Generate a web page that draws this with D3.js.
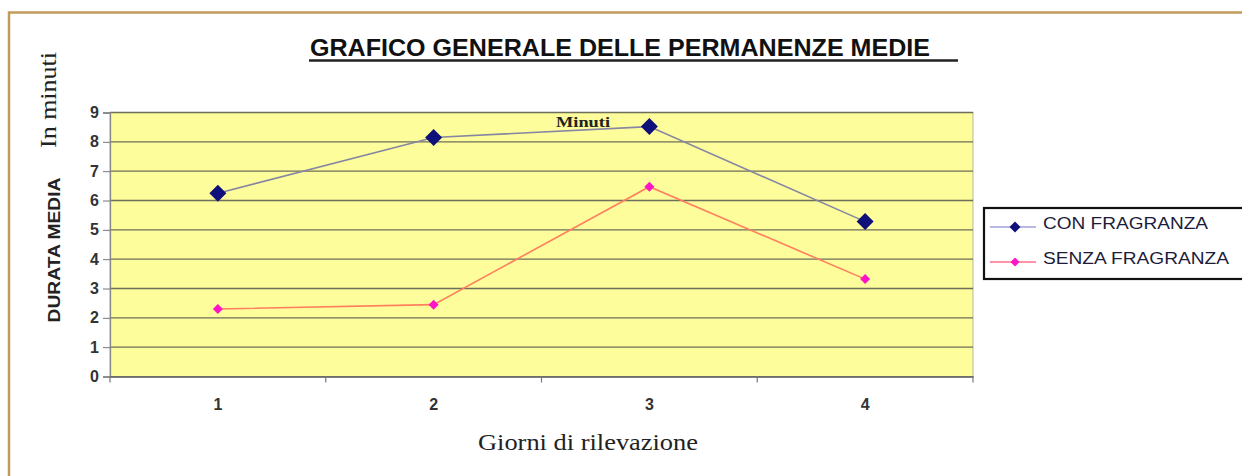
<!DOCTYPE html>
<html>
<head>
<meta charset="utf-8">
<script src="https://cdn.jsdelivr.net/npm/d3@7"></script>
<style>
  body { margin: 0; background: #fff; }
  svg { display: block; }
</style>
</head>
<body>
<svg width="1242" height="476"></svg>
<script>
// dati
const giorni = ["1", "2", "3", "4"];
const conFragranza = [6.25, 8.15, 8.52, 5.28];
const senzaFragranza = [2.3, 2.45, 6.47, 3.32];
const yTicks = [0, 1, 2, 3, 4, 5, 6, 7, 8, 9];
const serieNomi = ["CON FRAGRANZA", "SENZA FRAGRANZA"];

const svg = d3.select("svg");
const plot = { left: 110, right: 973, top: 112.5, bottom: 376.5 };

// cornice esterna
svg.append("path")
  .attr("d", "M9,476 V12.5 H1242")
  .attr("fill", "none")
  .attr("stroke", "#c49a5c")
  .attr("stroke-width", 2.5);

const x = d3.scaleBand().domain(giorni).range([plot.left, plot.right]);
const y = d3.scaleLinear().domain([0, 9]).range([plot.bottom, plot.top]);

// sfondo area del grafico
svg.append("rect")
  .attr("x", plot.left).attr("y", plot.top)
  .attr("width", plot.right - plot.left).attr("height", plot.bottom - plot.top)
  .attr("fill", "#fdfd9b")
  .attr("stroke", "#b8b8a0").attr("stroke-width", 1);

// griglia
svg.append("g")
  .selectAll("line")
  .data(yTicks.slice(1))
  .join("line")
  .attr("x1", plot.left).attr("x2", plot.right)
  .attr("y1", d => y(d)).attr("y2", d => y(d))
  .attr("stroke", "#6e6e5c").attr("stroke-width", 1.4);

// asse y
const yAxis = svg.append("g")
  .attr("transform", `translate(${plot.left},0)`)
  .call(d3.axisLeft(y).tickValues(yTicks).tickSize(7).tickPadding(4));
yAxis.select(".domain").attr("stroke", "#888").attr("stroke-width", 1.3);
yAxis.selectAll(".tick line").attr("stroke", "#777");
yAxis.selectAll("text")
  .attr("font-family", "Liberation Sans, Arial, sans-serif")
  .attr("font-weight", "bold").attr("font-size", 16).attr("fill", "#333");

// asse x
const xAxis = svg.append("g")
  .attr("transform", `translate(0,${plot.bottom})`)
  .call(d3.axisBottom(x).tickSize(0).tickPadding(22));
xAxis.select(".domain").attr("stroke", "#555").attr("stroke-width", 1.6);
xAxis.selectAll("text")
  .attr("font-family", "Liberation Sans, Arial, sans-serif")
  .attr("font-weight", "bold").attr("font-size", 16).attr("fill", "#333");
// tacche tra le categorie
svg.append("g")
  .selectAll("line")
  .data(giorni.concat(["end"]))
  .join("line")
  .attr("x1", (d, i) => i < giorni.length ? x(d) : plot.right)
  .attr("x2", (d, i) => i < giorni.length ? x(d) : plot.right)
  .attr("y1", plot.bottom).attr("y2", plot.bottom + 6)
  .attr("stroke", "#777").attr("stroke-width", 1.2);

const cx = d => x(d) + x.bandwidth() / 2;

// linee
const serie = [
  { nome: serieNomi[0], valori: conFragranza, linea: "#8686a4", marker: "#10107a", r: 8.5 },
  { nome: serieNomi[1], valori: senzaFragranza, linea: "#ff7f5e", marker: "#ff14c8", r: 5 }
];

const line = d3.line().x((v, i) => cx(giorni[i])).y(v => y(v));
const diamond = r => `M0,${-r} L${r},0 L0,${r} L${-r},0 Z`;

serie.forEach(s => {
  svg.append("path")
    .attr("d", line(s.valori))
    .attr("fill", "none")
    .attr("stroke", s.linea).attr("stroke-width", 1.6);
  svg.append("g")
    .selectAll("path")
    .data(s.valori)
    .join("path")
    .attr("transform", (v, i) => `translate(${cx(giorni[i])},${y(v)})`)
    .attr("d", diamond(s.r))
    .attr("fill", s.marker);
});

// etichetta dentro il grafico
svg.append("text")
  .attr("x", 583).attr("y", 127)
  .attr("text-anchor", "middle")
  .attr("font-family", "Liberation Serif, Times New Roman, serif")
  .attr("font-size", 15).attr("font-weight", "bold").attr("fill", "#222")
  .attr("textLength", 54).attr("lengthAdjust", "spacingAndGlyphs")
  .text("Minuti");

// titolo
svg.append("text")
  .attr("x", 310).attr("y", 56)
  .attr("font-family", "Liberation Sans Narrow, Liberation Sans, Arial, sans-serif")
  .attr("font-weight", "bold").attr("font-size", 23).attr("fill", "#111")
  .attr("textLength", 620).attr("lengthAdjust", "spacingAndGlyphs")
  .text("GRAFICO GENERALE DELLE PERMANENZE MEDIE");
svg.append("line")
  .attr("x1", 309).attr("x2", 958).attr("y1", 60.5).attr("y2", 60.5)
  .attr("stroke", "#222").attr("stroke-width", 2.5);

// titoli assi
svg.append("text")
  .attr("transform", "translate(56,100) rotate(-90)")
  .attr("text-anchor", "middle")
  .attr("font-family", "Liberation Serif, Times New Roman, serif")
  .attr("font-size", 23).attr("fill", "#222")
  .attr("textLength", 96).attr("lengthAdjust", "spacingAndGlyphs")
  .text("In minuti");
svg.append("text")
  .attr("transform", "translate(60,250) rotate(-90)")
  .attr("text-anchor", "middle")
  .attr("font-family", "Liberation Sans, Arial, sans-serif")
  .attr("font-weight", "bold").attr("font-size", 16).attr("fill", "#222")
  .attr("textLength", 145).attr("lengthAdjust", "spacingAndGlyphs")
  .text("DURATA MEDIA");
svg.append("text")
  .attr("x", 588).attr("y", 450)
  .attr("text-anchor", "middle")
  .attr("font-family", "Liberation Serif, Times New Roman, serif")
  .attr("font-size", 24).attr("fill", "#222")
  .attr("textLength", 220).attr("lengthAdjust", "spacingAndGlyphs")
  .text("Giorni di rilevazione");

// legenda
const leg = svg.append("g").attr("transform", "translate(984,208)");
leg.append("rect")
  .attr("x", 0).attr("y", 0).attr("width", 262).attr("height", 71)
  .attr("fill", "#fff").attr("stroke", "#111").attr("stroke-width", 2.2);
serie.forEach((s, i) => {
  const yy = 19 + i * 35;
  leg.append("line")
    .attr("x1", 6).attr("x2", 52).attr("y1", yy).attr("y2", yy)
    .attr("stroke", i === 0 ? "#a0a0d8" : "#ff6f8a").attr("stroke-width", 1.4);
  leg.append("path")
    .attr("transform", `translate(31,${yy})`)
    .attr("d", diamond(i === 0 ? 5.5 : 4.5))
    .attr("fill", s.marker);
  leg.append("text")
    .attr("x", 59).attr("y", yy)
    .attr("dy", "0.1em")
    .attr("font-family", "Liberation Sans, Arial, sans-serif")
    .attr("font-size", 17).attr("fill", "#1c1c3a")
    .attr("textLength", i === 0 ? 165 : 186).attr("lengthAdjust", "spacingAndGlyphs")
    .text(s.nome);
});
</script>
</body>
</html>
